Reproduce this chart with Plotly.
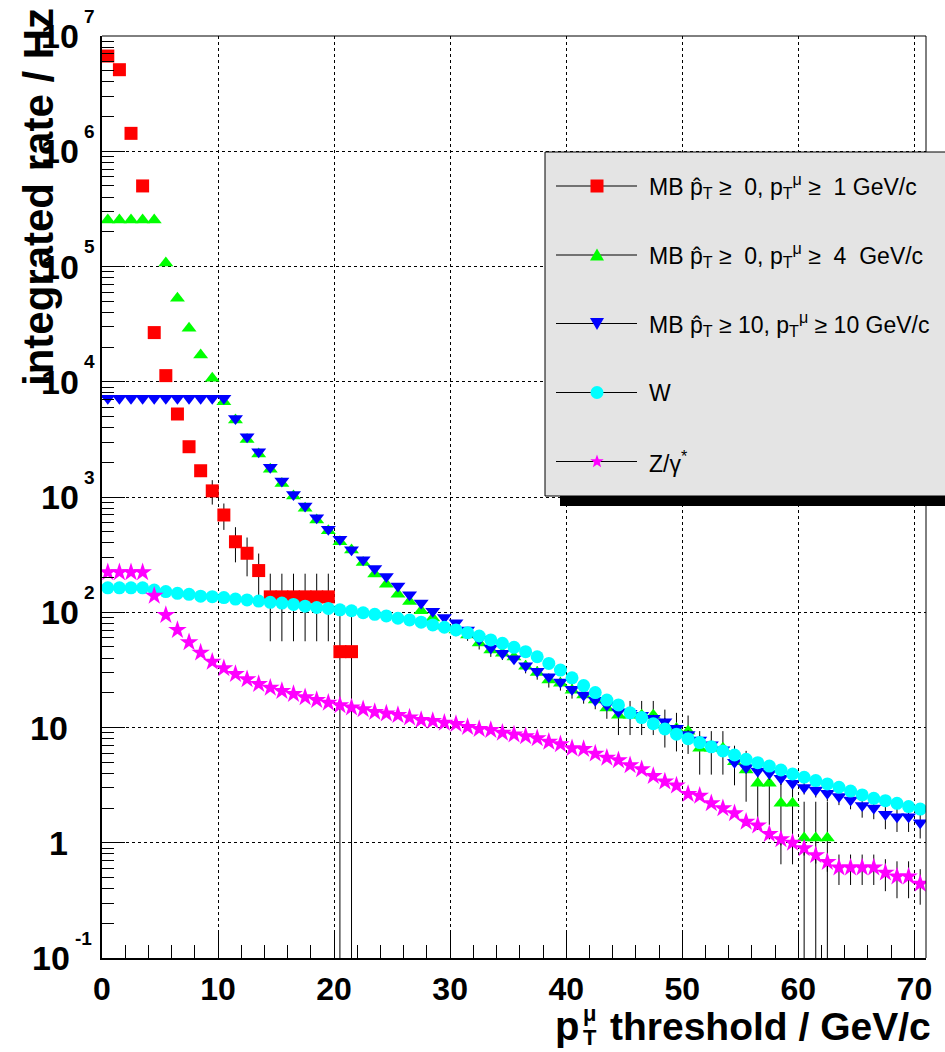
import math
import plotly.graph_objects as go

# ---------------- data (bin centres in GeV/c) ----------------
pt_bins = [0.5, 1.5, 2.5, 3.5, 4.5, 5.5, 6.5, 7.5, 8.5, 9.5,
           10.5, 11.5, 12.5, 13.5, 14.5, 15.5, 16.5, 17.5, 18.5, 19.5,
           20.5, 21.5, 22.5, 23.5, 24.5, 25.5, 26.5, 27.5, 28.5, 29.5,
           30.5, 31.5, 32.5, 33.5, 34.5, 35.5, 36.5, 37.5, 38.5, 39.5,
           40.5, 41.5, 42.5, 43.5, 44.5, 45.5, 46.5, 47.5, 48.5, 49.5,
           50.5, 51.5, 52.5, 53.5, 54.5, 55.5, 56.5, 57.5, 58.5, 59.5,
           60.5, 61.5, 62.5, 63.5, 64.5, 65.5, 66.5, 67.5, 68.5, 69.5,
           70.5]

# MB pthat>=0, pT(mu)>=1 GeV/c  (bins 0.5 .. 21.5)
mb1_rate = [6.7e6, 5.1e6, 1.43e6, 5.0e5, 2.67e4, 1.13e4, 5250, 2730, 1690, 1130,
            698, 409, 325, 230, 136, 136, 136, 136, 136, 136,
            45.5, 45.5]
mb1_err = [0, 0, 0, 0, 0, 0, 0, 0, 200, 270,
           180, 138, 120, 93, 80, 80, 80, 80, 80, 80,
           56, 56]

# MB pthat>=0, pT(mu)>=4 GeV/c  (bins 0.5 .. 62.5)
mb4_rate = [2.53e5, 2.53e5, 2.53e5, 2.53e5, 2.53e5, 1.07e5, 5.3e4, 2.91e4, 1.71e4, 1.07e4,
            6700, 4660, 3160, 2360, 1740, 1310, 1020, 798, 631, 510,
            409, 347, 270, 215, 175, 143, 124, 103, 89, 76,
            70, 63.5, 54, 47, 44, 41, 34, 30, 25.8, 24.2,
            21, 19.1, 17.3, 14.8, 12.8, 12.8, 12.8, 12.8, 10.5, 9.8,
            9.3, 6.6, 6.6, 6.6, 5.05, 4.27, 3.28, 3.28, 2.2, 2.2,
            1.1, 1.1, 1.1]
mb4_err = [0, 0, 0, 0, 0, 0, 0, 0, 0, 0,
           0, 0, 0, 0, 0, 0, 0, 0, 0, 0,
           0, 0, 0, 0, 0, 0, 0, 0, 0, 8,
           8, 7, 6.5, 6, 5.5, 5, 4.5, 4, 3.6, 3.3,
           3.2, 3.0, 2.9, 2.9, 4.2, 4.2, 4.2, 4.2, 3.8, 3.6,
           3.4, 2.7, 2.7, 2.7, 1.9, 2.0, 1.85, 1.85, 1.55, 1.55,
           1.17, 1.17, 1.17]

# MB pthat>=10, pT(mu)>=10 GeV/c  (bins 0.5 .. 70.5)
mb10_rate = [7200, 7200, 7200, 7200, 7200, 7200, 7200, 7200, 7200, 7200,
             7200, 4800, 3330, 2470, 1810, 1380, 1050, 836, 662, 525,
             430, 348, 285, 240, 204, 169, 142, 120, 102, 90,
             81, 70, 58, 49, 44, 39.5, 34.3, 30.7, 27.5, 24.8,
             21.5, 19.1, 17.2, 15.7, 13.7, 13.3, 12.8, 12.0, 11.2, 9.85,
             8.7, 7.8, 7.1, 6.4, 5.0, 4.5, 4.2, 4.0, 3.62, 3.28,
             3.02, 2.87, 2.69, 2.52, 2.35, 2.1, 2.0, 1.77, 1.68, 1.68,
             1.49]
mb10_err = [0, 0, 0, 0, 0, 0, 0, 0, 0, 0,
            0, 0, 0, 0, 0, 0, 0, 0, 0, 0,
            0, 0, 0, 0, 0, 0, 0, 0, 0, 0,
            0, 0, 0, 0, 0, 0, 0, 0, 0, 0,
            1.0, 1.0, 1.0, 1.0, 1.0, 0.9, 0.9, 0.9, 0.9, 0.8,
            0.8, 0.7, 0.7, 0.6, 0.5, 0.5, 0.5, 0.5, 0.45, 0.45,
            0.4, 0.4, 0.4, 0.4, 0.4, 0.45, 0.4, 0.46, 0.44, 0.44,
            0.4]

# W  (bins 0.5 .. 70.5)
w_rate = [163, 163, 163, 163, 156, 151, 146, 143, 138, 136.5,
          134, 130, 128, 125, 122, 120, 117, 113, 110, 108,
          105, 103, 99, 96, 93, 88.7, 85.8, 82, 77.7, 74.1,
          70.2, 66.5, 62.2, 57.5, 53.7, 49.6, 45.5, 41.1, 36, 31.5,
          27, 23.1, 20.1, 17.3, 15.7, 13.4, 12.2, 10.8, 9.7, 8.75,
          8.0, 7.4, 6.8, 6.26, 5.77, 5.3, 4.95, 4.63, 4.28, 3.95,
          3.70, 3.46, 3.24, 3.03, 2.81, 2.60, 2.43, 2.32, 2.20, 2.06,
          1.96]

# Z/gamma*  (bins 0.5 .. 70.5)
z_rate = [222, 222, 222, 222, 139, 94.6, 70.2, 54.8, 44.6, 37.2,
          32.6, 29.1, 26.2, 23.8, 22.1, 20.7, 19.5, 18.3, 17.3, 16.4,
          15.6, 14.9, 14.4, 13.6, 13.2, 12.8, 12.2, 11.6, 11.4, 11.0,
          10.7, 10.1, 9.7, 9.5, 9.0, 8.7, 8.4, 8.05, 7.5, 7.15,
          6.6, 6.5, 5.93, 5.47, 5.2, 4.7, 4.34, 3.79, 3.39, 3.13,
          2.65, 2.55, 2.2, 1.99, 1.80, 1.52, 1.41, 1.19, 1.07, 1.0,
          0.895, 0.78, 0.68, 0.61, 0.61, 0.61, 0.61, 0.55, 0.51, 0.51,
          0.44]
z_err = [0, 0, 0, 0, 0, 0, 0, 0, 0, 0,
         0, 0, 0, 0, 0, 0, 0, 0, 0, 0,
         0, 0, 0, 0, 0, 0, 0, 0, 0, 0,
         0, 0, 0, 0, 0, 0, 0, 0, 0, 0,
         0, 0, 0, 0, 0, 0, 0, 0, 0, 0,
         0, 0, 0, 0, 0, 0.12, 0.12, 0.12, 0.12, 0.12,
         0.12, 0.12, 0.12, 0.18, 0.18, 0.18, 0.18, 0.17, 0.18, 0.18,
         0.15]

legend_labels = [
    "MB p\u0302<sub>T</sub> \u2265 \u00a00, p<sub>T</sub><sup>\u03bc</sup> \u2265 \u00a01 GeV/c",
    "MB p\u0302<sub>T</sub> \u2265 \u00a00, p<sub>T</sub><sup>\u03bc</sup> \u2265 \u00a04 \u00a0GeV/c",
    "MB p\u0302<sub>T</sub> \u2265 10, p<sub>T</sub><sup>\u03bc</sup> \u2265 10 GeV/c",
    "W",
    "Z/\u03b3<sup>*</sup>",
]

x_major = [0, 10, 20, 30, 40, 50, 60, 70]
y_exponents = [-1, 0, 1, 2, 3, 4, 5, 6, 7]

# ---------------- geometry ----------------
W, H = 945, 1052
PL, PR, PT, PB = 102, 926, 36, 958
FONT = "Liberation Sans, Arial, Helvetica, sans-serif"


def pxx(px):
    return (px - PL) / (PR - PL)


def pxy(py):
    return (PB - py) / (PB - PT)


colors = ["#ff0000", "#00ff00", "#0000ff", "#00ffff", "#ff00ff"]
symbols = ["square", "triangle-up", "triangle-down", "circle", "star"]
sizes = [13, 13, 13, 13, 14]

series = [
    (pt_bins[:len(mb1_rate)], mb1_rate, mb1_err),
    (pt_bins[:len(mb4_rate)], mb4_rate, mb4_err),
    (pt_bins, mb10_rate, mb10_err),
    (pt_bins, w_rate, None),
    (pt_bins, z_rate, z_err),
]

fig = go.Figure()
for i, (xs, ys, es) in enumerate(series):
    tr = dict(x=xs, y=ys, mode="markers", showlegend=False,
              marker=dict(symbol=symbols[i], size=sizes[i], color=colors[i],
                          line=dict(width=0)),
              cliponaxis=True)
    if es is not None:
        tr["error_y"] = dict(type="data", array=es, symmetric=True,
                             color="black", thickness=1, width=0)
    fig.add_trace(go.Scatter(**tr))

x_minor = [v for v in range(2, 71, 2) if v % 10 != 0]
y_minor = [m * 10 ** e for e in range(-1, 7) for m in range(2, 10)]

fig.update_layout(
    width=W, height=H,
    margin=dict(l=PL, r=W - PR, t=PT, b=H - PB, pad=0),
    paper_bgcolor="white", plot_bgcolor="white",
    font=dict(family=FONT, color="black"),
    xaxis=dict(range=[0, 71], showline=True, linewidth=2, linecolor="black",
               ticks="inside", ticklen=27, tickwidth=1, tickcolor="black",
               tickvals=x_major, ticktext=[str(v) for v in x_major],
               tickfont=dict(family=FONT, size=32, color="black", weight="bold"),
               ticklabelstandoff=2,
               showgrid=True, gridcolor="black", griddash="dot", gridwidth=1,
               zeroline=False,
               minor=dict(tickvals=x_minor, ticks="inside", ticklen=13,
                          tickwidth=1, tickcolor="black", showgrid=False)),
    yaxis=dict(type="log", range=[-1, 7], showline=True, linewidth=2,
               linecolor="black", ticks="inside", ticklen=23, tickwidth=1,
               tickcolor="black", tickvals=[10 ** e for e in y_exponents],
               showticklabels=False,
               showgrid=True, gridcolor="black", griddash="dot", gridwidth=1,
               zeroline=False,
               minor=dict(tickvals=y_minor, ticks="inside", ticklen=12,
                          tickwidth=1, tickcolor="black", showgrid=False)),
)

shapes = []
# thin top / right frame lines
shapes.append(dict(type="line", xref="paper", yref="paper", x0=0, x1=1, y0=1, y1=1,
                   line=dict(color="black", width=1), layer="above"))
shapes.append(dict(type="line", xref="paper", yref="paper", x0=1, x1=1, y0=0, y1=1,
                   line=dict(color="black", width=1), layer="above"))
# legend shadow and box
LB_L, LB_R, LB_T, LB_B = 545, 952, 152, 496
shapes.append(dict(type="rect", xref="paper", yref="paper",
                   x0=pxx(LB_L + 15), x1=pxx(LB_R + 12), y0=pxy(LB_B + 10), y1=pxy(LB_T + 10),
                   fillcolor="black", line=dict(width=0), layer="above"))
shapes.append(dict(type="rect", xref="paper", yref="paper",
                   x0=pxx(LB_L), x1=pxx(LB_R), y0=pxy(LB_B), y1=pxy(LB_T),
                   fillcolor="#e4e4e4", line=dict(color="black", width=1), layer="above"))

entry_y = [186, 255, 323.5, 392.5, 461.5]
line_x0, line_x1, mark_x, text_x = 556, 637, 597, 647


def star_path(R, r):
    pts = []
    for k in range(10):
        ang = math.pi / 2 + k * math.pi / 5
        rad = R if k % 2 == 0 else r
        pts.append((rad * math.cos(ang), rad * math.sin(ang)))
    return "M" + " L".join(f"{x:.2f},{y:.2f}" for x, y in pts) + " Z"


marker_paths = [
    "M-6.5,-6.5 L6.5,-6.5 L6.5,6.5 L-6.5,6.5 Z",
    "M-7,-5.5 L7,-5.5 L0,6.5 Z",
    "M-7,5.5 L7,5.5 L0,-6.5 Z",
    None,
    star_path(7, 2.9),
]

annotations = []
for i, ey in enumerate(entry_y):
    shapes.append(dict(type="line", xref="paper", yref="paper",
                       x0=pxx(line_x0), x1=pxx(line_x1), y0=pxy(ey), y1=pxy(ey),
                       line=dict(color="black", width=1), layer="above"))
    if marker_paths[i] is None:
        shapes.append(dict(type="circle", xref="paper", yref="paper",
                           xsizemode="pixel", ysizemode="pixel",
                           xanchor=pxx(mark_x), yanchor=pxy(ey),
                           x0=-6.5, x1=6.5, y0=-6.5, y1=6.5,
                           fillcolor=colors[i], line=dict(width=0), layer="above"))
    else:
        shapes.append(dict(type="path", xref="paper", yref="paper",
                           xsizemode="pixel", ysizemode="pixel",
                           xanchor=pxx(mark_x), yanchor=pxy(ey),
                           path=marker_paths[i],
                           fillcolor=colors[i], line=dict(width=0), layer="above"))
    annotations.append(dict(xref="paper", yref="paper", x=pxx(text_x), y=pxy(ey),
                            xanchor="left", yanchor="middle", showarrow=False,
                            text=legend_labels[i],
                            font=dict(family=FONT, size=23, color="black")))

# y tick labels (10^n): base right-aligned, exponent to its right
for e in y_exponents:
    if e in (0, 1):
        base, right = ("1" if e == 0 else "10"), 70
    elif e < 0:
        base, right = "10", 72
    else:
        base, right = "10", 81
    annotations.append(dict(xref="paper", yref="y", x=pxx(right), y=e,
                            xanchor="right", yanchor="middle", showarrow=False,
                            text=f"<b>{base}</b>",
                            font=dict(family=FONT, size=34, color="black")))
    if e not in (0, 1):
        annotations.append(dict(xref="paper", yref="y", x=pxx(right + 1), y=e,
                                xanchor="left", yanchor="middle", showarrow=False,
                                yshift=20,
                                text=f"<b>{e}</b>",
                                font=dict(family=FONT, size=19, color="black")))

# x-axis title: p with stacked T / mu, then the rest
annotations.append(dict(xref="paper", yref="paper", x=pxx(933), y=pxy(1050),
                        xanchor="right", yanchor="bottom", showarrow=False,
                        text="<b>threshold / GeV/c</b>",
                        font=dict(family=FONT, size=39, color="black")))
annotations.append(dict(xref="paper", yref="paper", x=pxx(581), y=pxy(1050),
                        xanchor="right", yanchor="bottom", showarrow=False,
                        text="<b>p</b>",
                        font=dict(family=FONT, size=40, color="black")))
annotations.append(dict(xref="paper", yref="paper", x=pxx(581), y=pxy(1013),
                        xanchor="left", yanchor="middle", showarrow=False,
                        text="<b>\u03bc</b>",
                        font=dict(family=FONT, size=22, color="black")))
annotations.append(dict(xref="paper", yref="paper", x=pxx(581), y=pxy(1037),
                        xanchor="left", yanchor="middle", showarrow=False,
                        text="<b>T</b>",
                        font=dict(family=FONT, size=22, color="black")))

# y-axis title
annotations.append(dict(xref="paper", yref="paper", x=pxx(39), y=pxy(6),
                        xanchor="center", yanchor="top", showarrow=False,
                        textangle=-90,
                        text="<b>integrated rate / Hz</b>",
                        font=dict(family=FONT, size=42, color="black")))

fig.update_layout(shapes=shapes, annotations=annotations)
fig.write_html("out.html")
